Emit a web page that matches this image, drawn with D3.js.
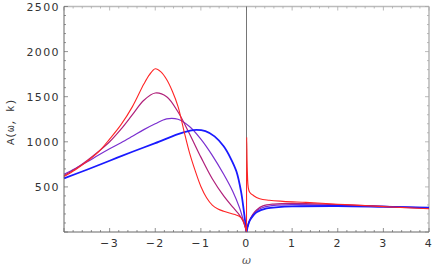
<!DOCTYPE html>
<html>
<head>
<meta charset="utf-8">
<script src="https://cdn.jsdelivr.net/npm/d3@7"></script>
<style>
  body { margin: 0; background: #fff; }
  svg { display: block; }
  .tick-label { font-family: "DejaVu Sans", sans-serif; font-size: 11px; fill: #333; letter-spacing: 1.4px; }
</style>
</head>
<body>
<svg width="436" height="270"></svg>
<script>
// Curve samples: [omega, A]
const redCurve = [
  [-4, 615], [-3.75, 690], [-3.5, 780], [-3.25, 885], [-3, 1030], [-2.75, 1190], [-2.5, 1390],
  [-2.25, 1640], [-2.125, 1745], [-2, 1810], [-1.875, 1775], [-1.75, 1690], [-1.625, 1560],
  [-1.5, 1390], [-1.375, 1130], [-1.25, 880], [-1.125, 680], [-1, 505], [-0.875, 380],
  [-0.75, 298], [-0.625, 255], [-0.5, 230], [-0.375, 210], [-0.25, 193], [-0.15, 172],
  [-0.075, 128], [-0.03, 62], [0, 0]
];
const redRight = [
  [0, 0], [0.004, 1050], [0.012, 800], [0.025, 580], [0.04, 490], [0.07, 440], [0.15, 405],
  [0.29, 368], [0.5, 352], [0.8, 340], [1.3, 328], [2, 308], [3, 281], [4, 258]
];
const magentaCurve = [
  [-4, 625], [-3.75, 700], [-3.5, 790], [-3.25, 890], [-3, 1000], [-2.75, 1140], [-2.5, 1300],
  [-2.25, 1460], [-2, 1541], [-1.75, 1500], [-1.5, 1330], [-1.25, 1090], [-1, 830],
  [-0.75, 590], [-0.5, 400], [-0.3, 275], [-0.15, 185], [-0.07, 115], [-0.025, 50], [0, 0],
  [0.02, 55], [0.07, 133], [0.15, 205], [0.22, 244], [0.36, 289], [0.6, 310], [1, 318],
  [2, 303], [3, 284], [4, 265]
];
const purpleCurve = [
  [-4, 640], [-3.75, 705], [-3.5, 775], [-3.25, 850], [-3, 922], [-2.75, 990], [-2.5, 1062],
  [-2.25, 1135], [-2, 1200], [-1.75, 1255], [-1.5, 1250], [-1.25, 1170], [-1, 1030],
  [-0.75, 850], [-0.5, 640], [-0.3, 450], [-0.15, 265], [-0.07, 130], [-0.025, 50], [0, 0],
  [0.02, 50], [0.07, 128], [0.15, 195], [0.22, 235], [0.36, 272], [0.6, 295], [1, 304],
  [2, 298], [3, 283], [4, 268]
];
const blueCurve = [
  [-4, 595], [-3.5, 690], [-3, 790], [-2.5, 890], [-2, 985], [-1.5, 1085], [-1.25, 1122],
  [-1.1, 1133], [-0.9, 1118], [-0.7, 1060], [-0.5, 950], [-0.35, 820], [-0.22, 670],
  [-0.12, 450], [-0.06, 240], [-0.025, 100], [0, 0],
  [0.02, 48], [0.07, 125], [0.15, 185], [0.22, 220], [0.44, 262],
  [0.7, 276], [1, 283], [2, 288], [3, 280], [4, 270]
];
const xTickLabels = [-3, -2, -1, 0, 1, 2, 3, 4];
const yTickLabels = [500, 1000, 1500, 2000, 2500];

const svg = d3.select("svg");

const x = d3.scaleLinear().domain([-4, 4]).range([64, 429]);
const y = d3.scaleLinear().domain([0, 2500]).range([232, 6.5]);

// Frame: light top/right, dark left/bottom
svg.append("line").attr("x1", 64).attr("x2", 429).attr("y1", y(2500)).attr("y2", y(2500))
    .attr("stroke", "#bbb").attr("stroke-width", 1.6);
svg.append("line").attr("x1", 429).attr("x2", 429).attr("y1", y(2500)).attr("y2", 232)
    .attr("stroke", "#bbb").attr("stroke-width", 1.6);

const frame = svg.append("g").attr("stroke", "#777").attr("stroke-width", 0.8);

// minor/major ticks on all sides, pointing inward
d3.range(-4, 4.001, 0.2).forEach(v => {
    const major = Math.abs(v - Math.round(v)) < 1e-6;
    const len = major ? 4 : 2;
    frame.append("line").attr("x1", x(v)).attr("x2", x(v)).attr("y1", 232).attr("y2", 232 - len);
    frame.append("line").attr("x1", x(v)).attr("x2", x(v)).attr("y1", y(2500)).attr("y2", y(2500) + len)
        .attr("stroke", "#aaa");
});
d3.range(0, 2501, 100).forEach(v => {
    const len = v % 500 === 0 ? 4 : 2;
    frame.append("line").attr("x1", 64).attr("x2", 64 + len).attr("y1", y(v)).attr("y2", y(v));
    frame.append("line").attr("x1", 429).attr("x2", 429 - len).attr("y1", y(v)).attr("y2", y(v))
        .attr("stroke", "#aaa");
});

// omega = 0 axis line
svg.append("line").attr("x1", x(0)).attr("x2", x(0)).attr("y1", y(2500)).attr("y2", 232)
    .attr("stroke", "#666").attr("stroke-width", 0.9);

// Curves: smooth each side of omega = 0 separately
const smooth = d3.line().x(d => x(d[0])).y(d => y(d[1])).curve(d3.curveCatmullRom.alpha(0.5));
const sharp = d3.line().x(d => x(d[0])).y(d => y(d[1])).curve(d3.curveMonotoneX);
const series = [
    { data: purpleCurve, color: "#7a2fd0", width: 1.2 },
    { data: magentaCurve, color: "#b0207a", width: 1.2 },
    { data: blueCurve, color: "#1a1aff", width: 1.8 },
    { data: redCurve, color: "#ff2424", width: 1.1 }
];
series.forEach(s => {
    const left = s.data.filter(d => d[0] <= 0);
    const right = s.data.filter(d => d[0] >= 0);
    [left, right].forEach(part => {
        if (part.length < 2) return;
        svg.append("path").datum(part)
            .attr("fill", "none")
            .attr("stroke", s.color)
            .attr("stroke-width", s.width)
            .attr("d", smooth);
    });
});
svg.append("path").datum(redRight)
    .attr("fill", "none")
    .attr("stroke", "#ff2424")
    .attr("stroke-width", 1.1)
    .attr("d", sharp);

// left & bottom frame on top
svg.append("line").attr("x1", 64).attr("x2", 64).attr("y1", y(2500)).attr("y2", 232)
    .attr("stroke", "#666").attr("stroke-width", 1);
svg.append("line").attr("x1", 64).attr("x2", 429).attr("y1", 232).attr("y2", 232)
    .attr("stroke", "#666").attr("stroke-width", 1);

// Tick labels
svg.selectAll(".xl").data(xTickLabels).enter().append("text")
    .attr("class", "tick-label")
    .attr("x", d => x(d))
    .attr("y", 247)
    .attr("text-anchor", "middle")
    .text(d => d < 0 ? "\u2212" + Math.abs(d) : d);

svg.selectAll(".yl").data(yTickLabels).enter().append("text")
    .attr("class", "tick-label")
    .attr("x", 60)
    .attr("y", d => y(d) + 4)
    .attr("text-anchor", "end")
    .text(d => d);

// Axis titles
svg.append("text")
    .attr("transform", "translate(14,122) rotate(-90)")
    .attr("text-anchor", "middle")
    .style("font-family", "'Liberation Mono', monospace")
    .style("font-size", "11px")
    .style("fill", "#333")
    .text("A(\u03c9, k)");

svg.append("text")
    .attr("x", x(0))
    .attr("y", 264)
    .attr("text-anchor", "middle")
    .style("font-family", "'DejaVu Serif', serif")
    .style("font-style", "italic")
    .style("font-size", "11px")
    .style("fill", "#555")
    .text("\u03c9");
</script>
</body>
</html>
